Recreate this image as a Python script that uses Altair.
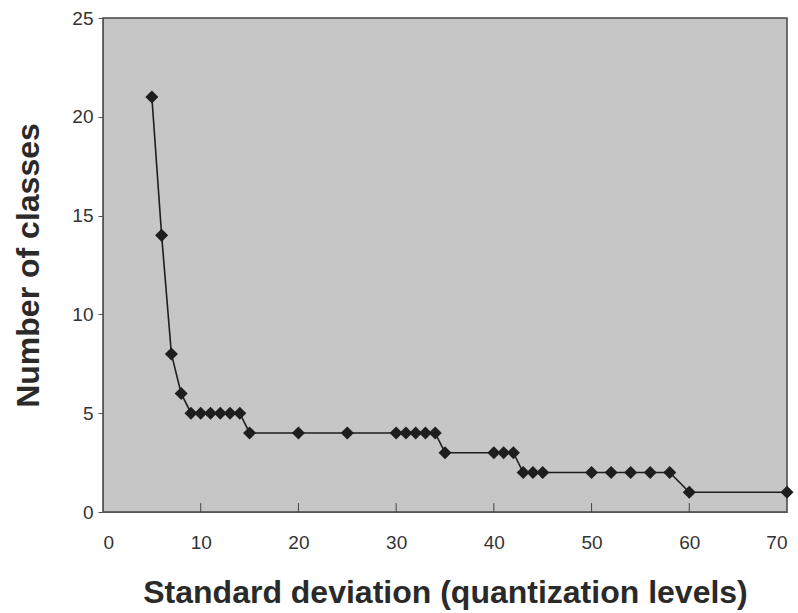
import altair as alt
import pandas as pd

std_dev = [5, 6, 7, 8, 9, 10, 11, 12, 13, 14, 15, 20, 25, 30, 31, 32, 33, 34, 35,
           40, 41, 42, 43, 44, 45, 50, 52, 54, 56, 58, 60, 70]
n_classes = [21, 14, 8, 6, 5, 5, 5, 5, 5, 5, 4, 4, 4, 4, 4, 4, 4, 4, 3,
             3, 3, 3, 2, 2, 2, 2, 2, 2, 2, 2, 1, 1]
x_ticks = [0, 10, 20, 30, 40, 50, 60, 70]

df = pd.DataFrame({"x": std_dev, "y": n_classes})
ticks_df = pd.DataFrame({"x": x_ticks[1:-1], "y0": [0] * 6, "y1": [0.45] * 6})

FONT = "Liberation Sans"

xs = alt.Scale(domain=[0, 70], nice=False, zero=True)
ys = alt.Scale(domain=[0, 25], nice=False)

line = alt.Chart(df).mark_line(color="#1e1e1e", strokeWidth=1.6).encode(
    x=alt.X("x:Q", scale=xs, title="Standard deviation (quantization levels)",
            axis=alt.Axis(values=x_ticks, ticks=False, labelPadding=21, titlePadding=25,
                          grid=False, domainColor="#555", labelFontSize=19,
                          labelColor="#333", titleFontSize=32, titleColor="#2a2a2a",
                          titleFont=FONT, labelFont=FONT, titleFontWeight="bold")),
    y=alt.Y("y:Q", scale=ys, title="Number of classes",
            axis=alt.Axis(values=[0, 5, 10, 15, 20, 25], tickSize=5, tickColor="#555",
                          labelPadding=5, titlePadding=26, grid=False, domainColor="#555",
                          labelFontSize=19, labelColor="#333", titleFontSize=32,
                          titleColor="#2a2a2a", titleFont=FONT, labelFont=FONT,
                          titleFontWeight="bold")),
)
points = alt.Chart(df).mark_point(shape="diamond", filled=True, color="#1e1e1e",
                                  size=170, opacity=1).encode(
    x=alt.X("x:Q", scale=xs), y=alt.Y("y:Q", scale=ys))

xt = alt.Chart(ticks_df).mark_rule(color="#444", strokeWidth=1).encode(
    x=alt.X("x:Q", scale=xs), y=alt.Y("y0:Q", scale=ys), y2="y1:Q")

chart = alt.layer(xt, line, points).properties(
    width=684, height=494,
    autosize=alt.AutoSizeParams(type="none"),
    padding={"left": 103, "top": 18, "right": 11, "bottom": 101},
    background="white",
).configure_view(fill="#c6c6c6", stroke="#444", strokeWidth=1.5)

chart.save("out.html", embed_options={"renderer": "svg", "actions": False})
